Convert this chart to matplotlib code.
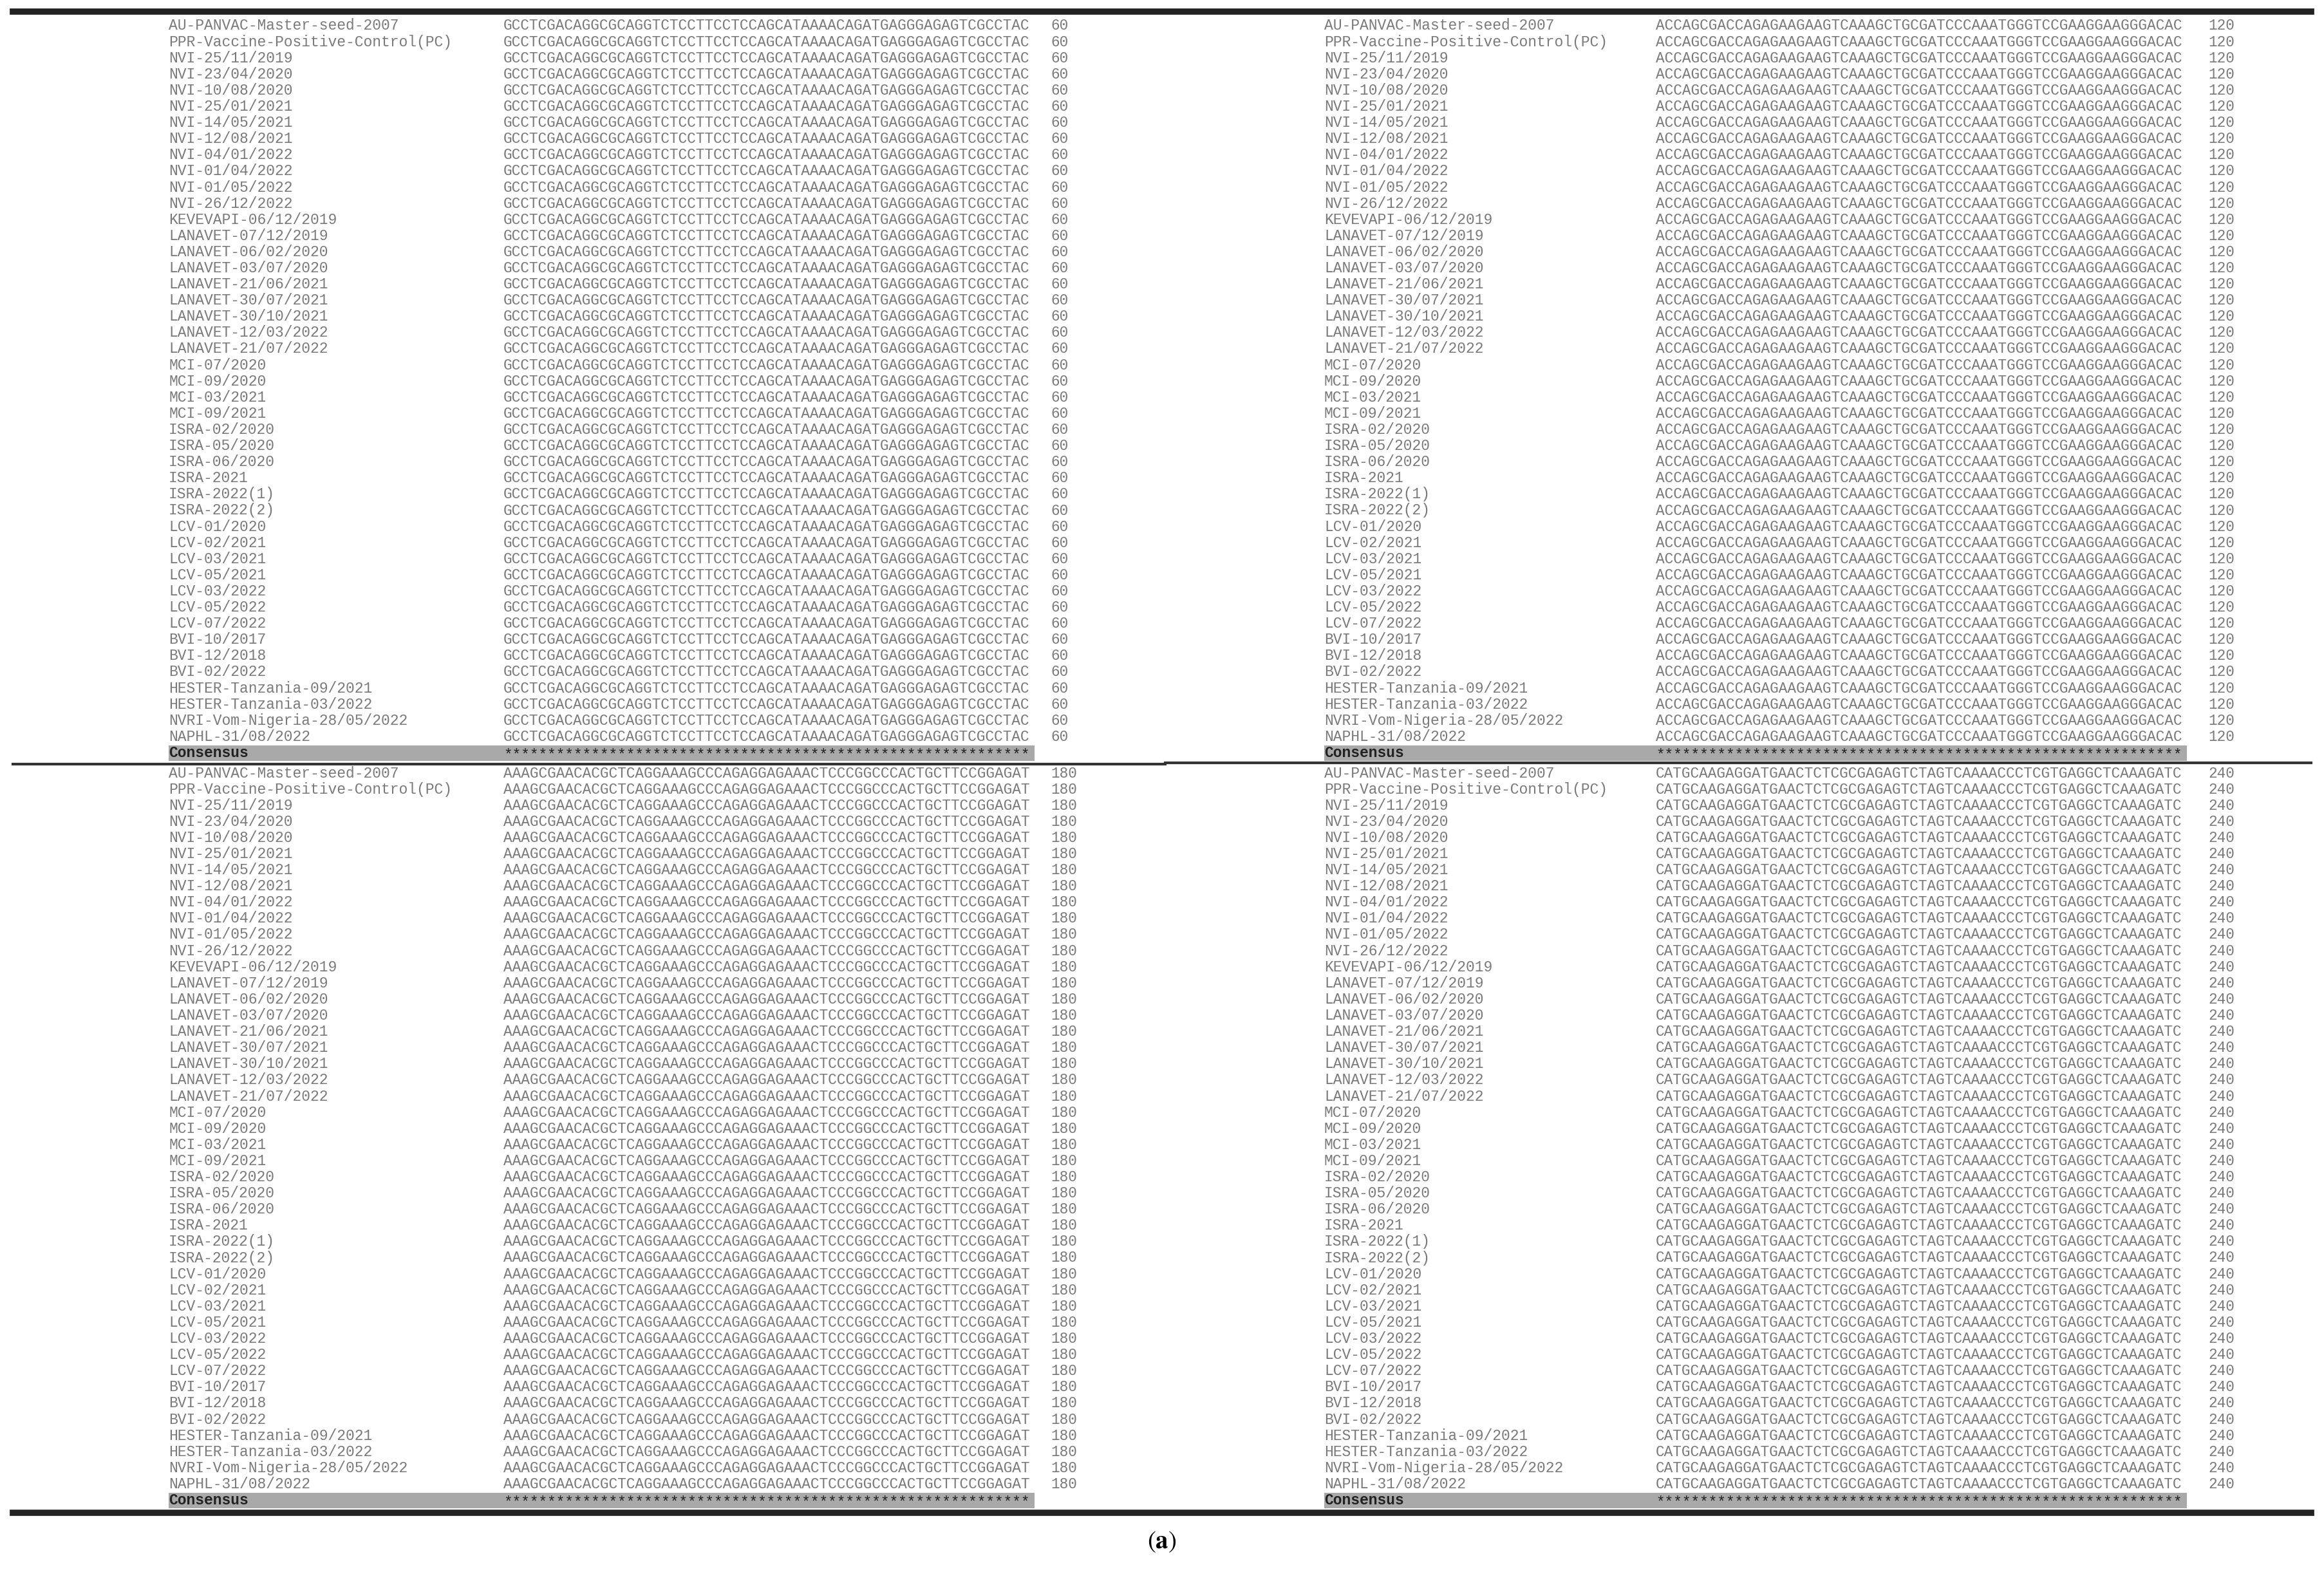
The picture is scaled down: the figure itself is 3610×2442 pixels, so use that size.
import matplotlib.pyplot as plt

plt.rcParams["mathtext.fontset"] = "stix"

names = [
    "AU-PANVAC-Master-seed-2007", "PPR-Vaccine-Positive-Control(PC)",
    "NVI-25/11/2019", "NVI-23/04/2020", "NVI-10/08/2020", "NVI-25/01/2021",
    "NVI-14/05/2021", "NVI-12/08/2021", "NVI-04/01/2022", "NVI-01/04/2022",
    "NVI-01/05/2022", "NVI-26/12/2022", "KEVEVAPI-06/12/2019",
    "LANAVET-07/12/2019", "LANAVET-06/02/2020", "LANAVET-03/07/2020",
    "LANAVET-21/06/2021", "LANAVET-30/07/2021", "LANAVET-30/10/2021",
    "LANAVET-12/03/2022", "LANAVET-21/07/2022", "MCI-07/2020", "MCI-09/2020",
    "MCI-03/2021", "MCI-09/2021", "ISRA-02/2020", "ISRA-05/2020",
    "ISRA-06/2020", "ISRA-2021", "ISRA-2022(1)", "ISRA-2022(2)",
    "LCV-01/2020", "LCV-02/2021", "LCV-03/2021", "LCV-05/2021", "LCV-03/2022",
    "LCV-05/2022", "LCV-07/2022", "BVI-10/2017", "BVI-12/2018", "BVI-02/2022",
    "HESTER-Tanzania-09/2021", "HESTER-Tanzania-03/2022",
    "NVRI-Vom-Nigeria-28/05/2022", "NAPHL-31/08/2022",
]
segments = [
    "GCCTCGACAGGCGCAGGTCTCCTTCCTCCAGCATAAAACAGATGAGGGAGAGTCGCCTAC",
    "ACCAGCGACCAGAGAAGAAGTCAAAGCTGCGATCCCAAATGGGTCCGAAGGAAGGGACAC",
    "AAAGCGAACACGCTCAGGAAAGCCCAGAGGAGAAACTCCCGGCCCACTGCTTCCGGAGAT",
    "CATGCAAGAGGATGAACTCTCGCGAGAGTCTAGTCAAAACCCTCGTGAGGCTCAAAGATC",
]
positions = [60, 120, 180, 240]

W, H = 3610, 2442
fig = plt.figure(figsize=(W / 100, H / 100), dpi=100)
ax = fig.add_axes([0, 0, 1, 1])
ax.set_xlim(0, W)
ax.set_ylim(H, 0)
ax.axis("off")

grey = "#7a7a7a"
step = 25.1
# (label x, sequence x, number x, first row y)
blocks = [(262, 782, 1632, 40), (2057, 2572, 3430, 40),
          (262, 782, 1632, 1201), (2057, 2572, 3430, 1201)]

for (lx, sx, nx, y0), seq, pos in zip(blocks, segments, positions):
    for i, nm in enumerate(names):
        y = y0 + i * step
        ax.text(lx, y, nm, family="Liberation Mono", fontsize=16.6, color=grey,
                va="center", ha="left")
        ax.text(sx, y, seq, family="Liberation Mono", fontsize=16.4, color=grey,
                va="center", ha="left")
        ax.text(nx, y, str(pos), family="Liberation Mono", fontsize=16.4,
                color=grey, va="center", ha="left")
    yc = y0 + len(names) * step
    ax.add_patch(plt.Rectangle((lx, yc - 12), sx + 60 * 13.75 - lx, 24,
                               color="#a9a9a9", lw=0))
    ax.text(lx, yc, "Consensus", family="Liberation Mono", fontsize=16.6,
            weight="bold", color="#222222", va="center", ha="left")
    ax.text(sx, yc + 4, "*" * 60, family="Liberation Mono", fontsize=16.4,
            color="#222222", va="center", ha="left")

ax.plot([20, W - 20], [18, 18], color="#222222", lw=7)
ax.plot([20, 1810], [1187, 1187], color="#333333", lw=3)
ax.plot([1810, W - 20], [1185, 1185], color="#333333", lw=3)
ax.plot([20, W - 20], [2350, 2350], color="#222222", lw=7)
ax.text(W / 2, 2395, r"($\mathbf{a}$)", fontsize=28, family="STIXGeneral",
        ha="center", va="center")

fig.savefig("out.png", dpi=100)
